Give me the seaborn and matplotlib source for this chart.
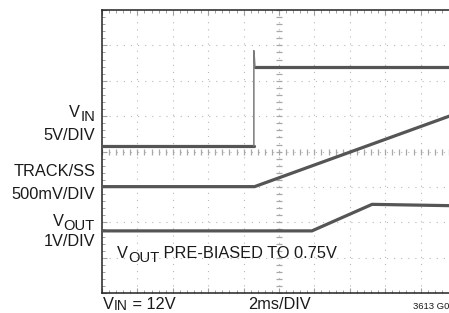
import numpy as np
import pandas as pd
import matplotlib
matplotlib.use("Agg")
import matplotlib.pyplot as plt
from matplotlib.ticker import MultipleLocator
import seaborn as sns

# Screen values in divisions (x: 10 div of 2ms, y: 8 div)
vin_t = [0.0, 4.29, 4.29, 4.32, 10.0]
vin_v = [4.16, 4.16, 6.85, 6.40, 6.40]
trk_t = [0.0, 4.31, 10.0]
trk_v = [3.01, 3.01, 5.07]
vout_t = [0.0, 5.93, 7.63, 10.0]
vout_v = [1.76, 1.76, 2.51, 2.47]

sns.set_style("white")
plt.rcParams['font.family'] = ['Liberation Sans', 'DejaVu Sans']

W, H = 449, 313
fig = plt.figure(figsize=(W / 100, H / 100), dpi=100)
L, T, B, R = 102, 10, 293.2, 456
ax = fig.add_axes([L / W, (H - B) / H, (R - L) / W, (B - T) / H])
ax.set_xlim(0, 10)
ax.set_ylim(0, 8)

# grid
gcol = '#b8b8b8'
for x in range(1, 10):
    ax.axvline(x, color=gcol, lw=0.8, ls=(0, (1, 5.4)), zorder=1)
for y in range(1, 8):
    ax.axhline(y, color=gcol, lw=0.8, ls=(0, (1, 5.4)), zorder=1)
# center cross ticks
cx = np.arange(0, 10.01, 0.2)
cy = np.arange(0, 8.01, 0.2)
ax.plot(cx, np.full_like(cx, 4.0), ls='none', marker='|', ms=4.5, mew=0.9, color='#a8a8a8', zorder=1)
ax.plot(np.full_like(cy, 5.0), cy, ls='none', marker='_', ms=4.5, mew=0.9, color='#a8a8a8', zorder=1)

df = pd.concat([
    pd.DataFrame({'t': vin_t[:2], 'v': vin_v[:2], 'ch': 'VIN_lo'}),
    pd.DataFrame({'t': vin_t[3:], 'v': vin_v[3:], 'ch': 'VIN_hi'}),
    pd.DataFrame({'t': trk_t, 'v': trk_v, 'ch': 'TRK'}),
    pd.DataFrame({'t': vout_t, 'v': vout_v, 'ch': 'VOUT'}),
])
sns.lineplot(data=df, x='t', y='v', units='ch', estimator=None, sort=False,
             color='#555555', lw=2.3, ax=ax, zorder=3)
# fast VIN edge with overshoot (fainter, thinner)
ax.plot(vin_t[1:4], vin_v[1:4], color='#7a7a7a', lw=1.1, zorder=3)
ax.set_xlabel('')
ax.set_ylabel('')

# frame
for s in ['top', 'left', 'bottom']:
    ax.spines[s].set_visible(True)
    ax.spines[s].set_color('#222222')
    ax.spines[s].set_linewidth(1.1)
ax.spines['right'].set_visible(False)
ax.xaxis.set_major_locator(MultipleLocator(1))
ax.xaxis.set_minor_locator(MultipleLocator(0.2))
ax.yaxis.set_major_locator(MultipleLocator(1))
ax.yaxis.set_minor_locator(MultipleLocator(0.2))
ax.tick_params(which='both', direction='in', top=True, bottom=True, left=True, right=False,
               labelbottom=False, labelleft=False, color='#a0a0a0')
ax.tick_params(which='major', length=3.5, width=0.8)
ax.tick_params(which='minor', length=2.2, width=0.7)

fs = 11.8
tc = '#1a1a1a'

def px(x, y):
    return x / W, 1 - y / H

def right_sub_label(xr, yb, main, sub, dy=4):
    t_sub = fig.text(*px(xr, yb + dy), sub, ha='right', va='baseline', fontsize=fs * 0.9, color=tc)
    fig.canvas.draw()
    bb = t_sub.get_window_extent()
    fig.text(bb.x0 / W, 1 - yb / H, main, ha='right', va='baseline', fontsize=fs, color=tc)

right_sub_label(95, 116.7, 'V', 'IN')
fig.text(*px(95, 140), '5V/DIV', ha='right', va='baseline', fontsize=fs, color=tc)
fig.text(*px(95, 176), 'TRACK/SS', ha='right', va='baseline', fontsize=fs, color=tc)
fig.text(*px(95, 199.3), '500mV/DIV', ha='right', va='baseline', fontsize=fs, color=tc)
right_sub_label(95, 226, 'V', 'OUT')
fig.text(*px(95, 246), '1V/DIV', ha='right', va='baseline', fontsize=fs, color=tc)

# inside annotation
fig.canvas.draw()
t1 = fig.text(*px(117, 258.3), 'V', ha='left', va='baseline', fontsize=fs, color=tc)
fig.canvas.draw()
bb1 = t1.get_window_extent()
t2 = fig.text(bb1.x1 / W, 1 - 261.7 / H, 'OUT', ha='left', va='baseline', fontsize=fs * 0.9, color=tc)
fig.canvas.draw()
bb2 = t2.get_window_extent()
fig.text(bb2.x1 / W, 1 - 258.3 / H, ' PRE-BIASED TO 0.75V', ha='left', va='baseline', fontsize=fs, color=tc)

# bottom texts
yb0 = 308.6
fig.canvas.draw()
b1 = fig.text(*px(103, yb0), 'V', ha='left', va='baseline', fontsize=fs, color=tc)
fig.canvas.draw()
bbb = b1.get_window_extent()
b2 = fig.text(bbb.x1 / W, 1 - (yb0 + 1.6) / H, 'IN', ha='left', va='baseline', fontsize=fs * 0.85, color=tc)
fig.canvas.draw()
bbc = b2.get_window_extent()
fig.text(bbc.x1 / W, 1 - yb0 / H, ' = 12V', ha='left', va='baseline', fontsize=fs, color=tc)
fig.text(*px(279, yb0), '2ms/DIV', ha='center', va='baseline', fontsize=fs, color=tc)
fig.text(*px(413, 309.3), '3613 G0', ha='left', va='baseline', fontsize=6.8, color=tc)

fig.savefig('out.png', dpi=100)
